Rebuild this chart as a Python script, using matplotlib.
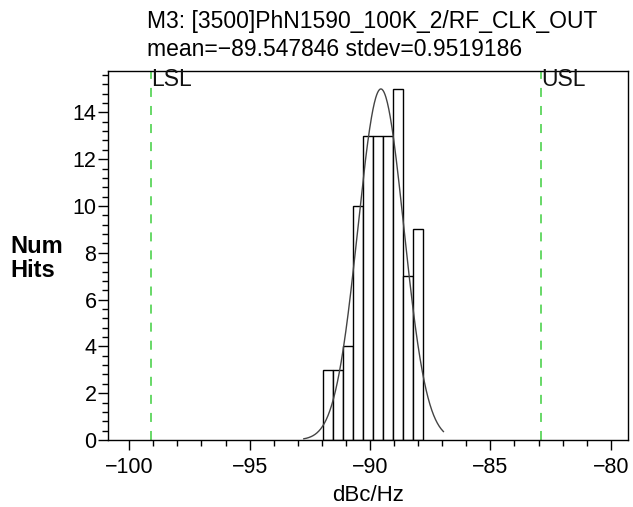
import numpy as np
import matplotlib
matplotlib.use("Agg")
import matplotlib.pyplot as plt
from matplotlib.ticker import MultipleLocator

plt.rcParams['font.family'] = ['Liberation Sans', 'DejaVu Sans']

# Data
bin_edges = np.linspace(-91.94, -87.81, 11)
counts = [3, 3, 4, 10, 13, 13, 13, 15, 7, 9]
mean = -89.547846
stdev = 0.9519186
lsl = -99.1
usl = -82.9
curve_range = (-92.75, -86.95)
title_lines = ["M3: [3500]PhN1590_100K_2/RF_CLK_OUT",
               "mean=\u221289.547846 stdev=0.9519186"]

fig = plt.figure(figsize=(6.33, 5.07), dpi=100)
ax = fig.add_axes([0.170, 0.1321, 0.8226, 0.728])

widths = np.diff(bin_edges)
ax.bar(bin_edges[:-1], counts, width=widths, align='edge',
       facecolor='white', edgecolor='black', linewidth=1.0, zorder=2)

xs = np.linspace(curve_range[0], curve_range[1], 300)
peak = max(counts)
ys = peak * np.exp(-0.5 * ((xs - mean) / stdev) ** 2)
ax.plot(xs, ys, color='#444444', linewidth=1.0, zorder=3)

green = '#5cd65c'
for v, lab in [(lsl, 'LSL'), (usl, 'USL')]:
    ax.axvline(v, color=green, linestyle=(0, (5, 5)), linewidth=1.3, zorder=1)
    ax.text(v, 15.9, lab, fontsize=16.5, va='top', ha='left', color='#111111',
            clip_on=False, zorder=4)

ax.set_xlim(-100.9, -79.27)
ax.set_ylim(0, 15.77)
ax.xaxis.set_major_locator(MultipleLocator(5))
ax.xaxis.set_minor_locator(MultipleLocator(1))
ax.yaxis.set_major_locator(MultipleLocator(2))
ax.yaxis.set_minor_locator(MultipleLocator(0.4))
ax.tick_params(which='major', length=7, width=1, labelsize=15.5, direction='out')
ax.tick_params(which='minor', length=4, width=1, direction='out')
ax.tick_params(axis='x', pad=5)
ax.tick_params(axis='y', pad=1)
for s in ax.spines.values():
    s.set_linewidth(1.0)

ax.set_xlabel('dBc/Hz', fontsize=16, labelpad=5)
fig.text(0.016, 0.49, 'Num\nHits', fontsize=17, fontweight='bold',
         ha='left', va='center', linespacing=1.1)

fig.text(0.233, 0.945, title_lines[0], fontsize=16.5, ha='left', va='baseline')
fig.text(0.233, 0.8895, title_lines[1], fontsize=16.5, ha='left', va='baseline')

fig.savefig('out.png', dpi=100)
